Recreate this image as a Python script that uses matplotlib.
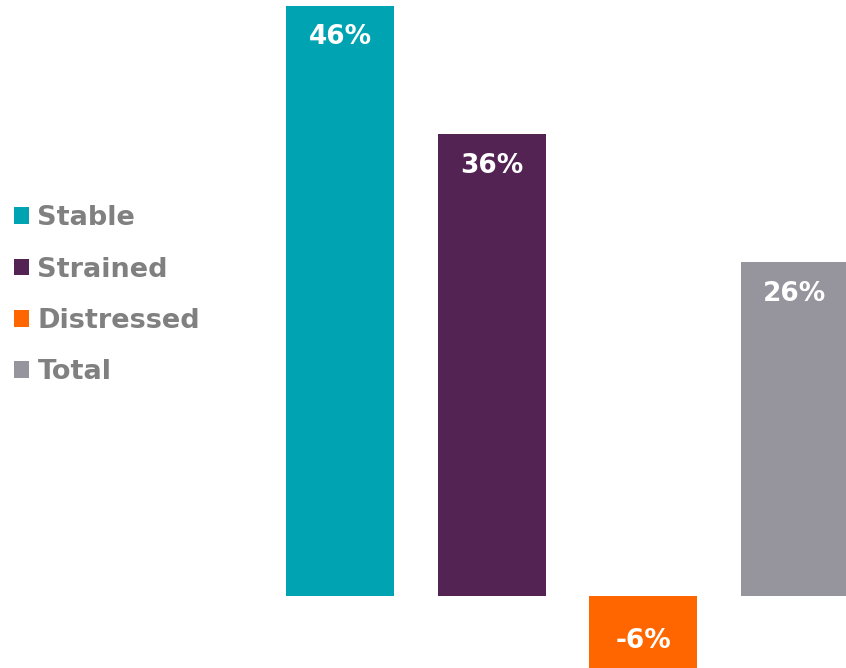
import matplotlib
matplotlib.use("Agg")
import matplotlib.pyplot as plt
from matplotlib.patches import Patch
import numpy as np

categories = ["Stable", "Strained", "Distressed", "Total"]
values = [46, 36, -6, 26]
labels = ["46%", "36%", "-6%", "26%"]
colors = ["#00A3B1", "#522353", "#FF6600", "#96949C"]

W, H, DPI = 846, 668, 100
step_px = 151.5          # distance between bar centres
first_px = 340           # centre of first bar
base_px = 596            # baseline, from top
px_per_pct = 12.83

fig = plt.figure(figsize=(W / DPI, H / DPI), dpi=DPI)
ax = fig.add_axes([0, 0, 1, 1])

x = np.arange(len(categories))
ax.bar(x, values, width=108 / step_px, color=colors)

x0 = -first_px / step_px
ax.set_xlim(x0, x0 + W / step_px)
ax.set_ylim(-(H - base_px) / px_per_pct, base_px / px_per_pct)

off = 31.5 / px_per_pct
for xi, v, lab in zip(x, values, labels):
    y = v - off if v > 0 else v + off
    ax.text(xi, y, lab, ha="center", va="center", color="white",
            fontsize=19, fontweight="bold", family="DejaVu Sans")

ax.axis("off")

handles = [Patch(facecolor=c, edgecolor="none") for c in colors]
leg = ax.legend(handles, categories, loc="center left",
                bbox_to_anchor=(0.0, 0.558), frameon=False,
                prop={"family": "DejaVu Sans", "weight": "bold", "size": 19.5},
                handlelength=0.58, handleheight=0.58, handletextpad=0.3,
                labelspacing=0.94, borderaxespad=0.3, borderpad=0.2)
for t in leg.get_texts():
    t.set_color("#808080")

fig.savefig("out.png", dpi=DPI)
